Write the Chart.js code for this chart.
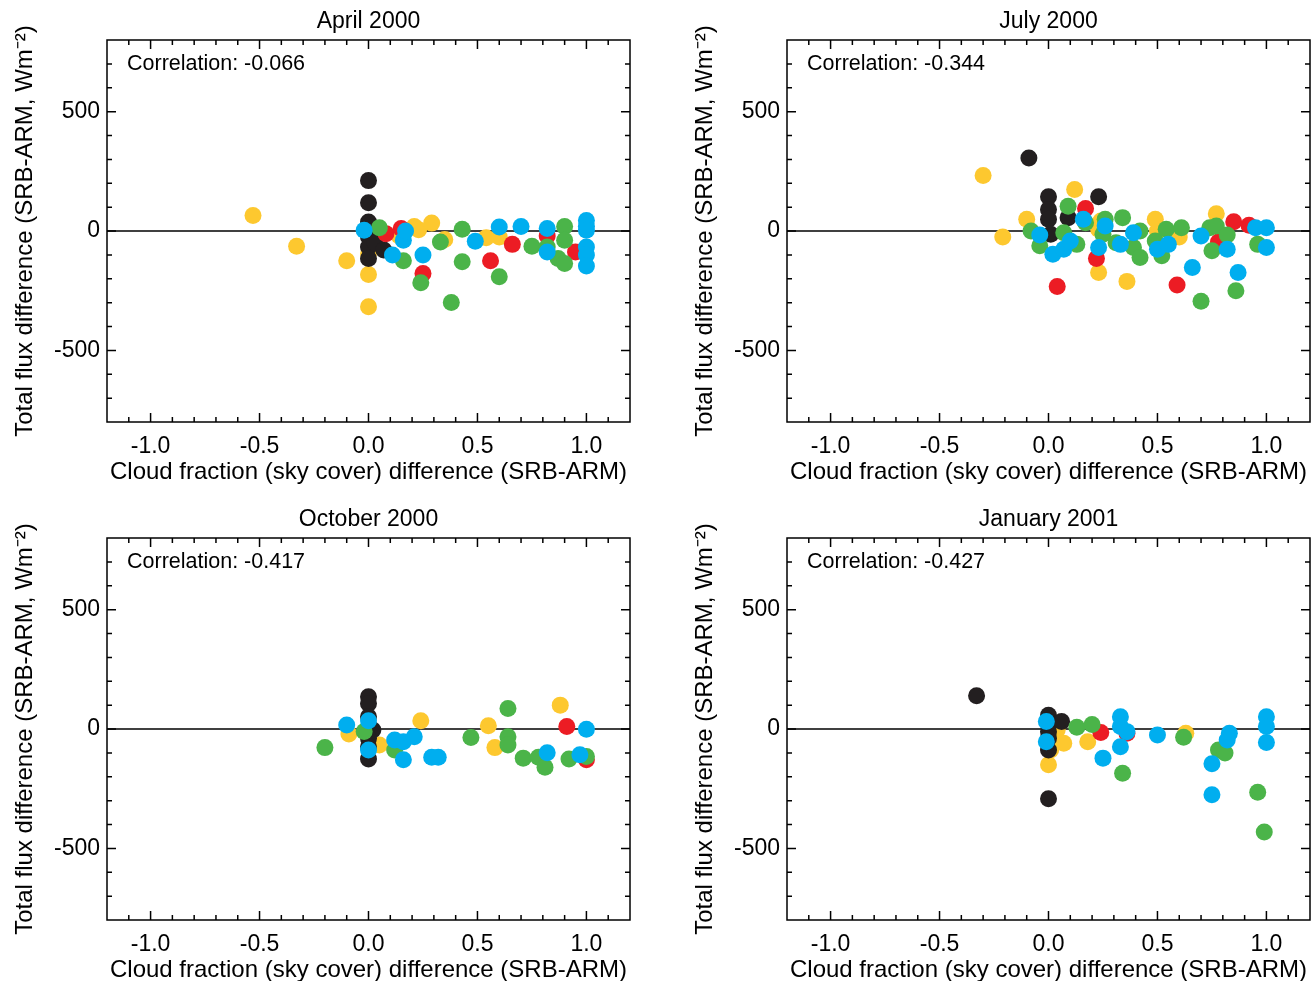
<!DOCTYPE html>
<html>
<head>
<meta charset="utf-8">
<script src="https://cdn.jsdelivr.net/npm/chart.js@4.4.0/dist/chart.umd.min.js"></script>
<style>
  body { margin: 0; background: #fff; overflow: hidden; }
  .panel { position: absolute; width: 633px; height: 490px; }
</style>
</head>
<body>
<div class="panel" style="left:0;top:0"><canvas id="c0" width="633" height="490"></canvas></div>
<div class="panel" style="left:680px;top:0"><canvas id="c1" width="633" height="490"></canvas></div>
<div class="panel" style="left:0;top:498px"><canvas id="c2" width="633" height="490"></canvas></div>
<div class="panel" style="left:680px;top:498px"><canvas id="c3" width="633" height="490"></canvas></div>
<script>
  var titles = ["April 2000", "July 2000", "October 2000", "January 2001"];
  var correlations = ["-0.066", "-0.344", "-0.417", "-0.427"];
  var xTicks = [-1.0, -0.5, 0.0, 0.5, 1.0];
  var yTicks = [-500, 0, 500];

  // April 2000  [cloud fraction diff, flux diff]
  var aprYellow = [[-0.53,65],[-0.33,-64],[-0.10,-125],[0,-95],[0,-182],[0,-317],[0.14,-20],[0.21,19],[0.23,5],[0.29,33],[0.35,-36],[0.54,-28],[0.60,-25]];
  var aprBlack = [[0,211],[0,118],[0,38],[0,-25],[0,-67],[0,-115],[0.03,-50],[0.07,-80]];
  var aprRed = [[0.08,-11],[0.15,10],[0.25,-178],[0.56,-125],[0.66,-56],[0.82,-21],[0.95,-88]];
  var aprGreen = [[0.05,14],[0.16,-125],[0.24,-217],[0.33,-46],[0.43,7],[0.43,-129],[0.38,-299],[0.60,-192],[0.75,-64],[0.82,-67],[0.90,19],[0.90,-39],[0.87,-115],[0.90,-136]];
  var aprBlue = [[-0.02,3],[0.11,-101],[0.16,-39],[0.17,0],[0.25,-101],[0.49,-43],[0.60,17],[0.70,19],[0.82,10],[0.82,-88],[1.0,44],[1.0,20],[1.0,3],[1.0,-67],[1.0,-101],[1.0,-147]];

  // July 2000
  var julYellow = [[-0.30,232],[-0.21,-25],[-0.10,49],[0.12,174],[0.24,42],[0.23,7],[0.23,-174],[0.36,-211],[0.49,49],[0.50,0],[0.60,-25],[0.77,72]];
  var julBlack = [[-0.09,306],[0,143],[0,90],[0,49],[0.01,-14],[0.09,56],[0.23,143]];
  var julRed = [[0.17,94],[0.22,-115],[0.04,-232],[0.59,-226],[0.78,-46],[0.85,39],[0.92,24]];
  var julGreen = [[-0.08,0],[-0.04,-62],[0.09,104],[0.07,-7],[0.13,-56],[0.17,35],[0.26,49],[0.25,-14],[0.31,-49],[0.34,56],[0.39,-69],[0.42,0],[0.42,-111],[0.49,-42],[0.52,-104],[0.54,7],[0.61,14],[0.74,14],[0.75,-83],[0.77,21],[0.82,-17],[0.70,-294],[0.86,-250],[0.96,-56]];
  var julBlue = [[-0.04,-17],[0.02,-97],[0.07,-76],[0.10,-42],[0.16,49],[0.23,-69],[0.26,21],[0.33,-56],[0.39,-7],[0.50,-76],[0.55,-56],[0.66,-153],[0.70,-21],[0.82,-76],[0.87,-174],[0.95,14],[1.0,14],[1.0,-69]];

  // October 2000
  var octYellow = [[-0.09,-21],[0.05,-67],[0.24,35],[0.55,14],[0.58,-78],[0.88,100]];
  var octBlack = [[0,135],[0,107],[0,51],[0.02,-4],[0,-39],[0,-74],[0,-126]];
  var octRed = [[0.91,10],[1.0,-129]];
  var octGreen = [[-0.20,-78],[-0.02,-10],[0.12,-88],[0.47,-36],[0.64,86],[0.64,-32],[0.64,-67],[0.71,-122],[0.78,-118],[0.81,-160],[0.92,-126],[1.0,-115]];
  var octBlue = [[-0.10,17],[0,35],[0,-88],[0.12,-46],[0.16,-53],[0.16,-129],[0.21,-32],[0.29,-118],[0.32,-118],[0.82,-99],[0.97,-108],[1.0,-1]];

  // January 2001
  var janYellow = [[0.04,-4],[0.07,-60],[0.01,-88],[0,-150],[0.18,-53],[0.63,-18]];
  var janBlack = [[-0.33,139],[0,58],[0,24],[0,-11],[0,-39],[0.06,31],[0,-88],[0,-292]];
  var janRed = [[0.24,-15],[0.36,-18]];
  var janGreen = [[0.13,7],[0.20,19],[0.34,-185],[0.62,-35],[0.78,-88],[0.81,-101],[0.96,-265],[0.99,-431]];
  var janBlue = [[-0.01,31],[-0.01,-53],[0.25,-122],[0.33,51],[0.33,10],[0.36,-11],[0.33,-74],[0.50,-25],[0.83,-18],[0.82,-46],[0.75,-146],[0.75,-275],[1.0,51],[1.0,10],[1.0,-57]];

  var panels = [
    [aprYellow, aprBlack, aprRed, aprGreen, aprBlue],
    [julYellow, julBlack, julRed, julGreen, julBlue],
    [octYellow, octBlack, octRed, octGreen, octBlue],
    [janYellow, janBlack, janRed, janGreen, janBlue]
  ];
  var colors = ["#fdc82f", "#231f20", "#ec1c24", "#4bb449", "#00aeef"];
  var FONT = "'Liberation Sans', Arial, Helvetica, sans-serif";

  // box, inward ticks on all sides, title, y title and correlation text
  var frameTicks = {
    id: "frameTicks",
    afterDatasetsDraw: function (chart, args, opts) {
      var ctx = chart.ctx, a = chart.chartArea;
      var xs = chart.scales.x, ys = chart.scales.y;
      ctx.save();
      ctx.strokeStyle = "#000";
      ctx.lineWidth = 1.5;
      ctx.strokeRect(a.left, a.top, a.right - a.left, a.bottom - a.top);
      ctx.beginPath();
      for (var i = -11; i <= 11; i++) {
        var px = xs.getPixelForValue(i / 10);
        var len = i % 5 === 0 ? 9 : 5;
        ctx.moveTo(px, a.bottom); ctx.lineTo(px, a.bottom - len);
        ctx.moveTo(px, a.top); ctx.lineTo(px, a.top + len);
      }
      for (var j = -7; j <= 7; j++) {
        var py = ys.getPixelForValue(j * 100);
        var l2 = j % 5 === 0 ? 9 : 5;
        ctx.moveTo(a.left, py); ctx.lineTo(a.left + l2, py);
        ctx.moveTo(a.right, py); ctx.lineTo(a.right - l2, py);
      }
      ctx.stroke();
      ctx.fillStyle = "#000";
      ctx.textBaseline = "middle";
      ctx.textAlign = "center";
      ctx.font = "23px " + FONT;
      ctx.fillText(opts.title, (a.left + a.right) / 2, 22);
      ctx.textAlign = "left";
      ctx.font = "21.5px " + FONT;
      ctx.fillText("Correlation: " + opts.text, a.left + 20, a.top + 24);
      ctx.translate(25, (a.top + a.bottom) / 2);
      ctx.rotate(-Math.PI / 2);
      ctx.textAlign = "center";
      ctx.font = "24px " + FONT;
      ctx.fillText("Total flux difference (SRB-ARM, Wm\u207B\u00B2)", 0, 0);
      ctx.restore();
    }
  };

  function makeChart(k) {
    var sets = panels[k].map(function (pts, c) {
      return {
        data: pts.map(function (p) { return { x: p[0], y: p[1] }; }),
        backgroundColor: colors[c],
        borderWidth: 0,
        pointRadius: 8.5,
        pointHoverRadius: 8.5,
        order: 5 - c
      };
    });
    sets.push({
      data: [{ x: -1.2, y: 0 }, { x: 1.2, y: 0 }],
      showLine: true,
      pointRadius: 0,
      borderColor: "#000",
      borderWidth: 1.5,
      order: 99
    });
    new Chart(document.getElementById("c" + k), {
      type: "scatter",
      data: { datasets: sets },
      plugins: [frameTicks],
      options: {
        responsive: false,
        animation: false,
        events: [],
        devicePixelRatio: 1,
        layout: { autoPadding: false, padding: { left: 0, right: 3, top: 40, bottom: 0 } },
        plugins: {
          legend: { display: false },
          tooltip: { enabled: false },
          title: { display: false },
          frameTicks: { text: correlations[k], title: titles[k] }
        },
        scales: {
          x: {
            type: "linear",
            min: -1.2,
            max: 1.2,
            afterBuildTicks: function (s) { s.ticks = xTicks.map(function (v) { return { value: v }; }); },
            afterFit: function (s) { s.height = 68; s.paddingLeft = 0; s.paddingRight = 0; },
            grid: { display: false, drawTicks: false },
            border: { display: false },
            ticks: {
              color: "#000",
              font: { family: FONT, size: 23 },
              padding: 11,
              maxRotation: 0,
              autoSkip: false,
              callback: function (v) { return Number(v).toFixed(1); }
            },
            title: {
              display: true,
              text: "Cloud fraction (sky cover) difference (SRB-ARM)",
              color: "#000",
              font: { family: FONT, size: 24, lineHeight: 1 },
              padding: { top: 0, bottom: 6 }
            }
          },
          y: {
            type: "linear",
            min: -800,
            max: 800,
            afterBuildTicks: function (s) { s.ticks = yTicks.map(function (v) { return { value: v }; }); },
            afterFit: function (s) { s.width = 107; s.paddingTop = 0; s.paddingBottom = 0; },
            grid: { display: false, drawTicks: false },
            border: { display: false },
            ticks: {
              color: "#000",
              font: { family: FONT, size: 23 },
              padding: 7,
              callback: function (v) { return String(v); }
            }
          }
        }
      }
    });
  }

  for (var k = 0; k < 4; k++) makeChart(k);
</script>
</body>
</html>
